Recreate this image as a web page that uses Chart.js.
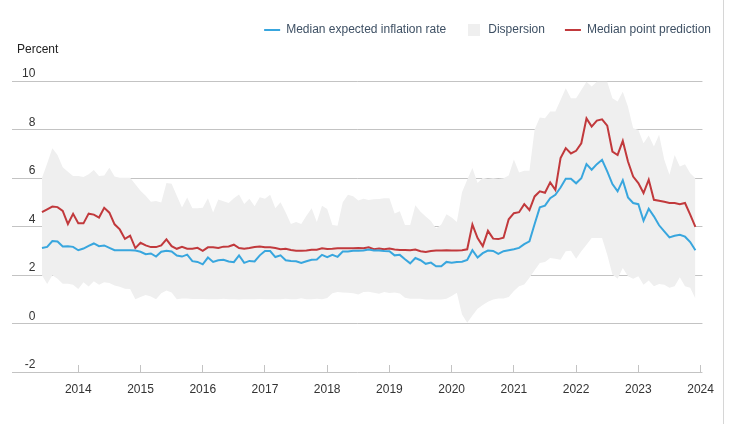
<!DOCTYPE html>
<html>
<head>
<meta charset="utf-8">
<script src="https://cdn.jsdelivr.net/npm/chart.js@4.4.1/dist/chart.umd.min.js"></script>
<style>
  html, body { margin: 0; padding: 0; background: #fff; }
  #wrap { position: relative; width: 731px; height: 424px; }
  #edge { position: absolute; left: 723px; top: 0; width: 1px; height: 424px; background: #d6d6d6; }
</style>
</head>
<body>
<div id="wrap">
  <canvas id="inflationChart" width="731" height="424"></canvas>
  <div id="edge"></div>
</div>
<script>
// monthly survey, June 2013 .. December 2023
const startYear = 2013;
const startMonth = 6;

const medianExpected = [
    3.11, 3.16, 3.40, 3.38, 3.18, 3.19, 3.16, 3.02, 3.09, 3.20, 3.30, 3.19, 3.22, 3.12, 3.02, 3.02,
    3.02, 3.02, 3.01, 2.96, 2.86, 2.89, 2.76, 2.96, 3.00, 2.97, 2.80, 2.76, 2.84, 2.57, 2.54, 2.44,
    2.72, 2.54, 2.61, 2.63, 2.56, 2.53, 2.81, 2.50, 2.58, 2.56, 2.81, 2.99, 2.99, 2.74, 2.81, 2.61,
    2.58, 2.57, 2.50, 2.57, 2.63, 2.64, 2.83, 2.74, 2.83, 2.75, 2.97, 2.97, 3.00, 3.00, 3.01,
    3.05, 3.01, 3.01, 2.99, 2.98, 2.81, 2.83, 2.65, 2.48, 2.70, 2.61, 2.46, 2.51, 2.36, 2.36, 2.54,
    2.51, 2.54, 2.55, 2.62, 3.02, 2.72, 2.90, 3.01, 2.99, 2.87, 2.98, 3.02, 3.06, 3.12, 3.27, 3.39,
    4.10, 4.79, 4.86, 5.17, 5.31, 5.61, 5.97, 5.97, 5.78, 5.99, 6.57, 6.34, 6.57, 6.75, 6.27, 5.75,
    5.45, 5.91, 5.20, 4.97, 4.92, 4.24, 4.73, 4.42, 4.05, 3.80, 3.55, 3.62, 3.66, 3.58, 3.36, 3.02
];

const medianPoint = [
    4.59, 4.71, 4.82, 4.80, 4.64, 4.10, 4.52, 4.13, 4.13, 4.53, 4.49, 4.37, 4.77, 4.57, 4.09, 3.88,
    3.49, 3.62, 3.11, 3.33, 3.22, 3.15, 3.15, 3.22, 3.47, 3.19, 3.08, 3.16, 3.08, 3.08, 3.12, 3.00,
    3.14, 3.14, 3.11, 3.17, 3.18, 3.25, 3.11, 3.08, 3.11, 3.15, 3.17, 3.14, 3.14, 3.11, 3.06, 3.08,
    3.03, 3.00, 3.00, 3.01, 3.04, 3.04, 3.10, 3.07, 3.08, 3.10, 3.10, 3.10, 3.10, 3.11, 3.10,
    3.14, 3.06, 3.09, 3.06, 3.09, 3.05, 3.03, 3.03, 3.02, 3.05, 2.98, 2.95, 2.99, 3.01, 3.01, 3.02,
    3.01, 3.01, 3.02, 3.06, 4.08, 3.52, 3.19, 3.82, 3.50, 3.48, 3.54, 4.30, 4.55, 4.59, 4.92, 4.68,
    5.24, 5.45, 5.39, 5.82, 5.51, 6.82, 7.23, 7.01, 7.12, 7.43, 8.46, 8.12, 8.37, 8.42, 8.16, 7.09,
    6.95, 7.53, 6.68, 6.06, 5.79, 5.38, 5.93, 5.10, 5.06, 5.02, 4.97, 4.97, 4.92, 4.97, 4.49, 3.98
];

const dispersionUpper = [
    6.00, 6.60, 7.23, 6.95, 6.44, 6.26, 6.08, 6.08, 6.04, 6.15, 6.33, 6.08, 6.10, 6.42, 6.06, 6.01,
    6.01, 6.01, 5.74, 5.47, 5.27, 5.02, 5.05, 4.99, 5.79, 5.76, 5.27, 4.78, 5.20, 4.75, 4.75, 4.77,
    5.17, 4.58, 5.11, 5.04, 4.97, 5.17, 5.32, 4.93, 5.14, 4.83, 5.21, 5.14, 5.31, 4.75, 5.00, 4.58,
    4.10, 4.19, 4.10, 4.44, 4.75, 4.19, 4.86, 4.72, 4.06, 4.03, 5.00, 5.31, 5.25, 5.07, 5.14,
    5.09, 5.12, 5.13, 5.16, 5.17, 4.54, 4.63, 4.06, 4.06, 4.88, 4.61, 4.41, 4.23, 3.92, 4.08, 4.51,
    4.37, 4.19, 5.41, 5.93, 6.41, 5.79, 6.01, 5.96, 5.99, 5.96, 5.99, 6.10, 6.76, 6.23, 6.30, 6.30,
    8.00, 8.50, 8.46, 8.74, 8.74, 9.22, 9.70, 9.29, 9.29, 9.63, 9.97, 9.77, 9.97, 9.97, 9.97, 9.29,
    9.15, 9.56, 8.94, 8.05, 7.98, 7.43, 7.75, 7.30, 7.78, 6.75, 6.13, 6.95, 6.47, 6.57, 6.20, 5.99
];

const dispersionLower = [
    1.99, 1.63, 1.99, 1.85, 1.64, 1.64, 1.60, 1.42, 1.70, 1.53, 1.74, 1.60, 1.70, 1.67, 1.57, 1.52,
    1.43, 1.42, 1.00, 1.09, 1.18, 1.11, 1.00, 1.25, 1.36, 1.28, 1.00, 1.03, 1.03, 1.01, 1.01, 1.01,
    1.00, 1.00, 1.00, 1.02, 1.00, 1.00, 0.99, 1.00, 1.00, 1.00, 1.01, 1.00, 1.00, 1.00, 1.00, 1.02,
    1.00, 1.00, 1.04, 1.00, 1.00, 1.02, 1.00, 1.05, 1.25, 1.30, 1.28, 1.27, 1.25, 1.20, 1.30,
    1.31, 1.27, 1.23, 1.30, 1.26, 1.28, 1.24, 1.06, 1.02, 1.02, 1.02, 0.99, 0.99, 0.99, 0.99, 1.02,
    1.13, 1.27, 0.37, 0.03, 0.33, 0.61, 0.76, 0.90, 0.99, 1.03, 1.03, 1.09, 1.34, 1.54, 1.61, 1.89,
    2.20, 2.50, 2.54, 2.70, 2.67, 2.63, 2.98, 3.00, 2.67, 2.98, 3.25, 3.53, 3.53, 3.53, 2.84, 2.02,
    1.85, 2.29, 1.95, 1.85, 1.95, 1.60, 1.77, 1.54, 1.63, 1.60, 1.47, 1.54, 1.91, 1.54, 1.47, 1.03
];

const yearTicks = [2014, 2015, 2016, 2017, 2018, 2019, 2020, 2021, 2022, 2023, 2024];
const yTicks = [-2, 0, 2, 4, 6, 8, 10];

const blue = '#38a6de';
const red = '#c1393c';
const grey = '#efefef';
const gridGrey = '#c3c3c3';
const textColor = '#333333';
const legendColor = '#3e5064';
const fontFamily = '"Liberation Sans", Arial, sans-serif';

// month position on a year axis: 2013-06 -> 2013 + 5/12
const monthPositions = medianExpected.map((_, i) => startYear + (startMonth - 1 + i) / 12);
const toPoints = values => values.map((v, i) => ({ x: monthPositions[i], y: v }));

const swatch = document.createElement('canvas');
swatch.width = 12;
swatch.height = 12;
const swatchCtx = swatch.getContext('2d');
swatchCtx.fillStyle = grey;
swatchCtx.fillRect(0, 0, 12, 12);

const percentLabel = {
    id: 'percentLabel',
    afterDraw(chart) {
        const ctx = chart.ctx;
        ctx.save();
        ctx.font = '12px ' + fontFamily;
        ctx.fillStyle = '#222222';
        ctx.textAlign = 'left';
        ctx.textBaseline = 'middle';
        ctx.fillText('Percent', 17, 50);
        ctx.restore();
    }
};

const lineDefaults = { pointRadius: 0, pointHoverRadius: 0, tension: 0, borderWidth: 2 };

new Chart(document.getElementById('inflationChart').getContext('2d'), {
    type: 'line',
    data: {
        datasets: [
            { ...lineDefaults, label: 'Median expected inflation rate', data: toPoints(medianExpected), borderColor: blue, fill: false },
            { ...lineDefaults, label: 'Dispersion', data: toPoints(dispersionUpper), borderWidth: 0, borderColor: grey, backgroundColor: grey, fill: '+1' },
            { ...lineDefaults, label: 'Dispersion lower', data: toPoints(dispersionLower), borderWidth: 0, borderColor: grey, fill: false },
            { ...lineDefaults, label: 'Median point prediction', data: toPoints(medianPoint), borderColor: red, fill: false }
        ]
    },
    options: {
        responsive: false,
        animation: false,
        layout: { padding: { top: 4, left: 0, right: 0, bottom: 0 } },
        plugins: {
            filler: { drawTime: 'beforeDatasetsDraw' },
            tooltip: { enabled: false },
            legend: {
                position: 'top',
                align: 'end',
                labels: {
                    usePointStyle: true,
                    pointStyleWidth: 16,
                    boxHeight: 12,
                    padding: 20,
                    color: legendColor,
                    font: { size: 12, family: fontFamily },
                    generateLabels: () => [
                        { text: 'Median expected inflation rate', strokeStyle: blue, fillStyle: blue, lineWidth: 2, pointStyle: 'line', datasetIndex: 0, fontColor: legendColor },
                        { text: 'Dispersion', strokeStyle: grey, fillStyle: grey, lineWidth: 0, pointStyle: swatch, datasetIndex: 1, fontColor: legendColor },
                        { text: 'Median point prediction', strokeStyle: red, fillStyle: red, lineWidth: 2, pointStyle: 'line', datasetIndex: 3, fontColor: legendColor }
                    ]
                },
                onClick: () => {}
            }
        },
        scales: {
            x: {
                type: 'linear',
                position: 'bottom',
                min: 2012.935,
                max: 2024.03,
                afterBuildTicks: scale => { scale.ticks = yearTicks.map(v => ({ value: v })); },
                afterFit: scale => { scale.height = 52; },
                grid: { display: true, drawOnChartArea: false, drawTicks: true, tickLength: -7, color: gridGrey },
                border: { display: false },
                ticks: {
                    padding: 17,
                    maxRotation: 0,
                    autoSkip: false,
                    color: textColor,
                    font: { size: 12, family: fontFamily },
                    callback: value => String(value)
                }
            },
            xTop: {
                type: 'linear',
                position: 'top',
                afterFit: scale => { scale.height = 35; },
                grid: { display: false },
                border: { display: false },
                ticks: { display: false }
            },
            y: {
                type: 'linear',
                position: 'left',
                min: -2,
                max: 10,
                afterBuildTicks: scale => { scale.ticks = yTicks.map(v => ({ value: v })); },
                afterFit: scale => { scale.width = 12; },
                grid: { color: gridGrey, drawTicks: false },
                border: { display: false },
                ticks: {
                    mirror: true,
                    crossAlign: 'far',
                    padding: 10,
                    labelOffset: -7,
                    color: textColor,
                    font: { size: 12, family: fontFamily }
                }
            },
            yRight: {
                type: 'linear',
                position: 'right',
                afterFit: scale => { scale.width = 28; },
                grid: { display: false },
                border: { display: false },
                ticks: { display: false }
            }
        }
    },
    plugins: [percentLabel]
});
</script>
</body>
</html>
